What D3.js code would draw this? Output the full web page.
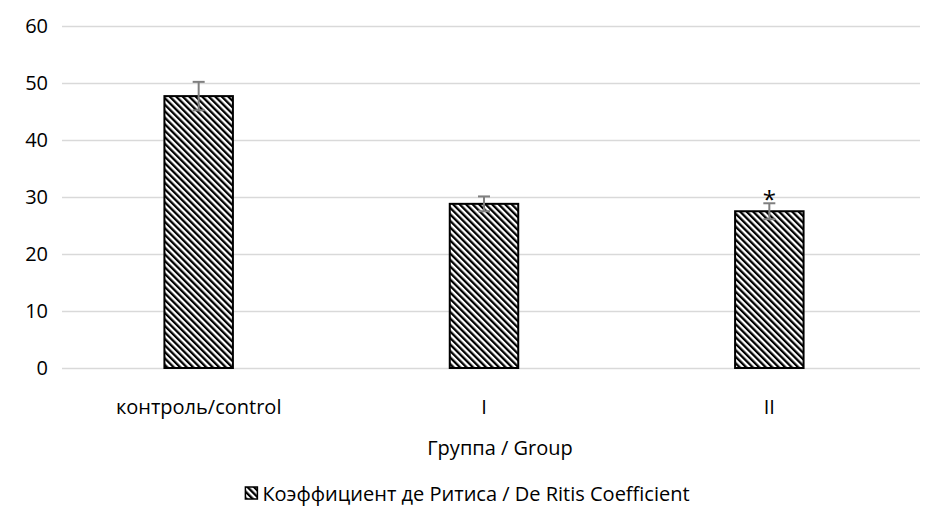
<!DOCTYPE html>
<html>
<head>
<meta charset="utf-8">
<script src="https://d3js.org/d3.v7.min.js"></script>
<style>
  body { margin: 0; background: #fff; }
  text { font-family: "Open Sans", Lato, sans-serif; fill: #000; }
</style>
</head>
<body>
<div id="chart"></div>
<script>
var categories = ["контроль/control", "I", "II"];
var values = [47.7, 28.8, 27.5];
var errors = [2.5, 1.3, 1.4];
var marks = ["", "", "*"];
var yTicks = [0, 10, 20, 30, 40, 50, 60];
var xTitle = "Группа / Group";
var seriesName = "Коэффициент де Ритиса / De Ritis Coefficient";

var width = 936, height = 528;
var margin = { top: 26, left: 62, right: 16, bottom: 160 };

var svg = d3.select("#chart")
  .append("svg")
  .attr("width", width)
  .attr("height", height);

// hatch pattern
var defs = svg.append("defs");
defs.append("pattern")
  .attr("id", "hatch")
  .attr("patternUnits", "userSpaceOnUse")
  .attr("width", 4.6)
  .attr("height", 4.6)
  .attr("patternTransform", "rotate(-45)")
  .call(function(p) {
    p.append("rect").attr("width", 4.6).attr("height", 4.6).attr("fill", "#fff");
    p.append("rect").attr("width", 2.3).attr("height", 4.6).attr("fill", "#000");
  });

var x = d3.scaleBand()
  .domain(categories)
  .range([56, 912])
  .paddingInner(0.76)
  .paddingOuter(0.38);

var y = d3.scaleLinear()
  .domain([0, 60])
  .range([368, 26]);

// gridlines
svg.append("g")
  .selectAll("line")
  .data(yTicks)
  .enter()
  .append("line")
  .attr("x1", margin.left)
  .attr("x2", width - margin.right)
  .attr("y1", function(d) { return Math.round(y(d)) + 0.5; })
  .attr("y2", function(d) { return Math.round(y(d)) + 0.5; })
  .attr("stroke", "#d9d9d9")
  .attr("stroke-width", 1.5);

// y tick labels
svg.append("g")
  .selectAll("text")
  .data(yTicks)
  .enter()
  .append("text")
  .attr("x", 48)
  .attr("y", function(d) { return y(d) + 7; })
  .attr("text-anchor", "end")
  .style("font-size", "20px")
  .text(function(d) { return d; });

// bars
var bw = x.bandwidth();
svg.append("g")
  .selectAll("rect")
  .data(values)
  .enter()
  .append("rect")
  .attr("x", function(d, i) { return x(categories[i]); })
  .attr("y", function(d) { return y(d); })
  .attr("width", bw)
  .attr("height", function(d) { return y(0) - y(d); })
  .attr("fill", "url(#hatch)")
  .attr("stroke", "#000")
  .attr("stroke-width", 2);

// error bars
var err = svg.append("g")
  .attr("stroke", "#7f7f7f")
  .attr("stroke-width", 2);

values.forEach(function(v, i) {
  var cx = x(categories[i]) + bw / 2;
  err.append("line")
    .attr("x1", cx).attr("x2", cx)
    .attr("y1", y(v - errors[i])).attr("y2", y(v + errors[i]));
  [v - errors[i], v + errors[i]].forEach(function(e) {
    err.append("line")
      .attr("x1", cx - 6).attr("x2", cx + 6)
      .attr("y1", y(e)).attr("y2", y(e));
  });
  if (marks[i]) {
    svg.append("text")
      .attr("x", cx)
      .attr("y", y(v + errors[i]) + 5)
      .attr("text-anchor", "middle")
      .style("font-size", "24px")
      .text(marks[i]);
  }
});

// category labels
svg.append("g")
  .selectAll("text")
  .data(categories)
  .enter()
  .append("text")
  .attr("x", function(d) { return x(d) + bw / 2; })
  .attr("y", 414)
  .attr("text-anchor", "middle")
  .style("font-size", "20px")
  .text(function(d) { return d; });

// axis title
svg.append("text")
  .attr("x", 500)
  .attr("y", 455)
  .attr("text-anchor", "middle")
  .style("font-size", "20px")
  .text(xTitle);

// legend
var legend = svg.append("g")
  .attr("transform", "translate(468,501)");
var legendText = legend.append("text")
  .attr("x", 8)
  .attr("y", 0)
  .attr("text-anchor", "middle")
  .style("font-size", "20px")
  .text(seriesName);
var tw = legendText.node().getComputedTextLength();
legend.append("rect")
  .attr("x", 8 - tw / 2 - 17)
  .attr("y", -14)
  .attr("width", 12)
  .attr("height", 12)
  .attr("fill", "url(#hatch)")
  .attr("stroke", "#000")
  .attr("stroke-width", 1.5);
</script>
</body>
</html>
